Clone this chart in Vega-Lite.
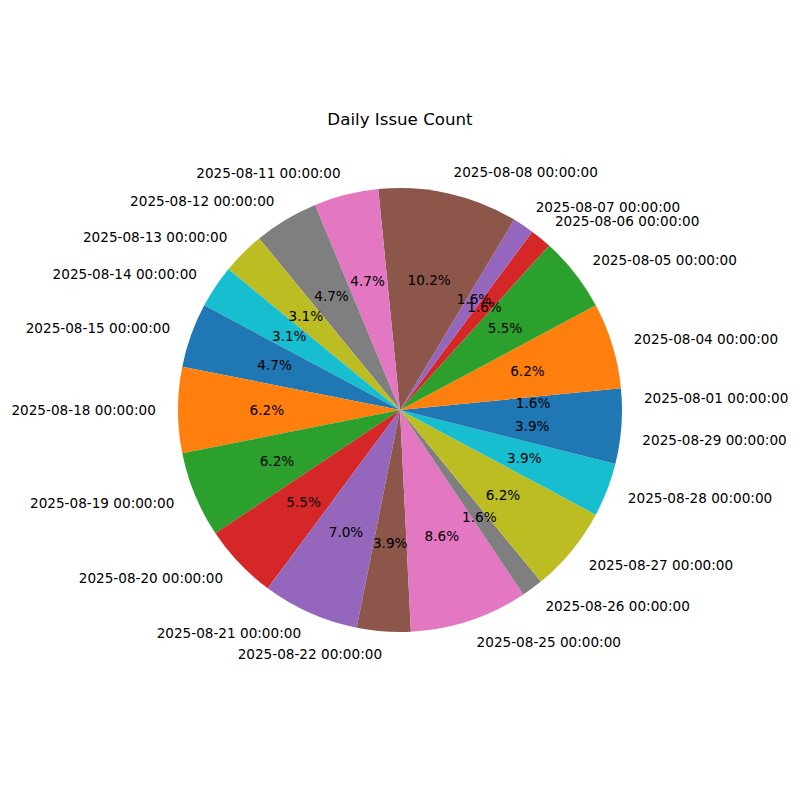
{
  "$schema": "https://vega.github.io/schema/vega-lite/v6.json",
  "width": 800,
  "height": 780,
  "autosize": "none",
  "padding": {"left": 0, "top": 20, "right": 0, "bottom": 0},
  "background": "white",
  "title": {
    "text": "Daily Issue Count",
    "font": "DejaVu Sans",
    "fontSize": 16.67,
    "fontWeight": "normal",
    "color": "#000000",
    "anchor": "middle",
    "offset": -109
  },
  "config": {"view": {"stroke": null}},
  "data": {
    "values": [
      {"date": "2025-08-01 00:00:00", "count": 2},
      {"date": "2025-08-04 00:00:00", "count": 8},
      {"date": "2025-08-05 00:00:00", "count": 7},
      {"date": "2025-08-06 00:00:00", "count": 2},
      {"date": "2025-08-07 00:00:00", "count": 2},
      {"date": "2025-08-08 00:00:00", "count": 13},
      {"date": "2025-08-11 00:00:00", "count": 6},
      {"date": "2025-08-12 00:00:00", "count": 6},
      {"date": "2025-08-13 00:00:00", "count": 4},
      {"date": "2025-08-14 00:00:00", "count": 4},
      {"date": "2025-08-15 00:00:00", "count": 6},
      {"date": "2025-08-18 00:00:00", "count": 8},
      {"date": "2025-08-19 00:00:00", "count": 8},
      {"date": "2025-08-20 00:00:00", "count": 7},
      {"date": "2025-08-21 00:00:00", "count": 9},
      {"date": "2025-08-22 00:00:00", "count": 5},
      {"date": "2025-08-25 00:00:00", "count": 11},
      {"date": "2025-08-26 00:00:00", "count": 2},
      {"date": "2025-08-27 00:00:00", "count": 8},
      {"date": "2025-08-28 00:00:00", "count": 5},
      {"date": "2025-08-29 00:00:00", "count": 5}
    ]
  },
  "transform": [
    {"stack": "count", "groupby": [], "sort": [{"field": "date", "order": "ascending"}], "as": ["s0", "s1"]},
    {"joinaggregate": [{"op": "sum", "field": "count", "as": "total"}]},
    {"calculate": "(datum.s0 + datum.s1) / 2", "as": "mid"},
    {"calculate": "format(datum.count / datum.total * 100 - 1e-9, '.1f') + '%'", "as": "pct"}
  ],
  "layer": [
    {
      "mark": {"type": "arc", "radius": 222, "stroke": null},
      "encoding": {
        "theta": {"field": "s1", "type": "quantitative", "scale": {"range": [1.5707963, -4.712389], "nice": false, "zero": true}},
        "theta2": {"field": "s0"},
        "color": {"field": "date", "type": "nominal", "scale": {"scheme": "category10"}, "legend": null}
      }
    },
    {
      "mark": {"type": "text", "radius": 133.2, "font": "DejaVu Sans", "fontSize": 13.6, "color": "#000000", "align": "center", "baseline": "middle", "dy": 1},
      "encoding": {
        "theta": {"field": "mid", "type": "quantitative"},
        "text": {"field": "pct", "type": "nominal"}
      }
    },
    {
      "transform": [{"filter": "cos(2 * PI * datum.mid / datum.total) >= 0"}],
      "mark": {"type": "text", "radius": 244.2, "font": "DejaVu Sans", "fontSize": 13.6, "color": "#000000", "align": "left", "baseline": "middle", "dy": 1},
      "encoding": {
        "theta": {"field": "mid", "type": "quantitative"},
        "text": {"field": "date", "type": "nominal"}
      }
    },
    {
      "transform": [{"filter": "cos(2 * PI * datum.mid / datum.total) < 0"}],
      "mark": {"type": "text", "radius": 244.2, "font": "DejaVu Sans", "fontSize": 13.6, "color": "#000000", "align": "right", "baseline": "middle", "dy": 1},
      "encoding": {
        "theta": {"field": "mid", "type": "quantitative"},
        "text": {"field": "date", "type": "nominal"}
      }
    }
  ]
}
